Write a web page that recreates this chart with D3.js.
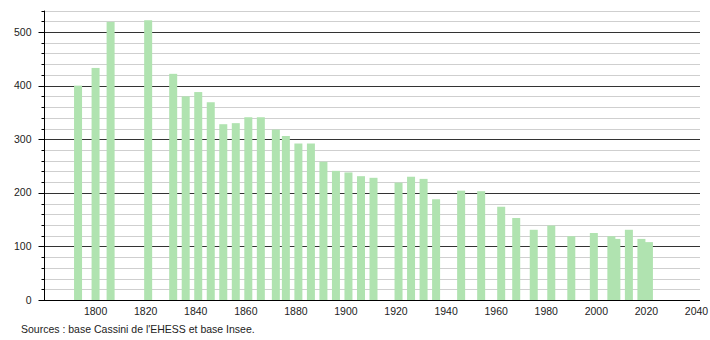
<!DOCTYPE html>
<html>
<head>
<meta charset="utf-8">
<style>
  body { margin: 0; background: #fff; }
  svg text { font-family: "Liberation Sans", Arial, sans-serif; fill: #222; }
</style>
</head>
<body>
<svg width="710" height="340"></svg>
<script src="https://d3js.org/d3.v7.min.js"></script>
<script>

var years = [1793, 1800, 1806, 1821, 1831, 1836, 1841, 1846, 1851, 1856, 1861, 1866,
             1872, 1876, 1881, 1886, 1891, 1896, 1901, 1906, 1911, 1921, 1926, 1931,
             1936, 1946, 1954, 1962, 1968, 1975, 1982, 1990, 1999, 2006, 2008, 2013,
             2018, 2021];
var population = [400, 433, 519, 522, 422, 380, 388, 369, 328, 330, 341, 341,
                  318, 306, 292, 292, 258, 241, 238, 231, 228, 219, 230, 226,
                  188, 204, 203, 174, 153, 131, 139, 119, 125, 119, 114, 131,
                  114, 108];
var xTicks = [1800, 1820, 1840, 1860, 1880, 1900, 1920, 1940, 1960, 1980, 2000, 2020, 2040];
var yTicks = [0, 100, 200, 300, 400, 500];
var source = "Sources : base Cassini de l'EHESS et base Insee.";

var svg = d3.select("svg");

var x = d3.scaleLinear().domain([1779.4, 2041.4]).range([44, 700]);
var y = d3.scaleLinear().domain([0, 540]).range([300, 10.6]);

var minor = d3.range(20, 541, 20).filter(function(v) { return v % 100 != 0; });

// gridlines
svg.append("g").selectAll("line")
  .data(minor)
  .enter().append("line")
  .attr("x1", x.range()[0]).attr("x2", x.range()[1])
  .attr("y1", function(d) { return Math.round(y(d)) + 0.5; })
  .attr("y2", function(d) { return Math.round(y(d)) + 0.5; })
  .attr("stroke", "#cfcfcf").attr("stroke-width", 1);

svg.append("g").selectAll("line")
  .data(yTicks.filter(function(d) { return d > 0; }))
  .enter().append("line")
  .attr("x1", x.range()[0]).attr("x2", x.range()[1])
  .attr("y1", function(d) { return Math.round(y(d)) + 0.5; })
  .attr("y2", function(d) { return Math.round(y(d)) + 0.5; })
  .attr("stroke", "#333").attr("stroke-width", 1);

// bars
var bw = 8;
svg.append("g").selectAll("rect")
  .data(years)
  .enter().append("rect")
  .attr("x", function(d) { return x(d) - bw / 2; })
  .attr("width", bw)
  .attr("y", function(d, i) { return y(population[i]); })
  .attr("height", function(d, i) { return y(0) - y(population[i]); })
  .attr("fill", "#b0e3b0");

// y axis
var yAxis = svg.append("g").attr("transform", "translate(44.5,0)");
yAxis.append("line").attr("y1", y(540)).attr("y2", y(0)).attr("stroke", "#000");
yAxis.selectAll(".minor").data(minor).enter().append("line")
  .attr("x1", -3).attr("x2", 0)
  .attr("y1", function(d) { return Math.round(y(d)) + 0.5; })
  .attr("y2", function(d) { return Math.round(y(d)) + 0.5; })
  .attr("stroke", "#000");
yAxis.selectAll(".major").data(yTicks).enter().append("line")
  .attr("x1", -6).attr("x2", 0)
  .attr("y1", function(d) { return Math.round(y(d)) + 0.5; })
  .attr("y2", function(d) { return Math.round(y(d)) + 0.5; })
  .attr("stroke", "#000");
yAxis.selectAll("text").data(yTicks).enter().append("text")
  .attr("x", -13).attr("y", function(d) { return y(d); })
  .attr("dy", "0.35em").attr("text-anchor", "end")
  .attr("font-size", "10.5px")
  .text(function(d) { return d; });

// x axis
var xAxis = svg.append("g").attr("transform", "translate(0," + (Math.round(y(0)) + 0.5) + ")");
xAxis.append("line").attr("x1", 44).attr("x2", 700).attr("stroke", "#000");
xAxis.selectAll("text").data(xTicks).enter().append("text")
  .attr("x", function(d) { return x(d); }).attr("y", 14)
  .attr("text-anchor", "middle")
  .attr("font-size", "10.5px")
  .text(function(d) { return d; });

svg.append("text")
  .attr("x", 21).attr("y", 333)
  .attr("font-size", "10.5px")
  .text(source);

</script>
</body>
</html>
